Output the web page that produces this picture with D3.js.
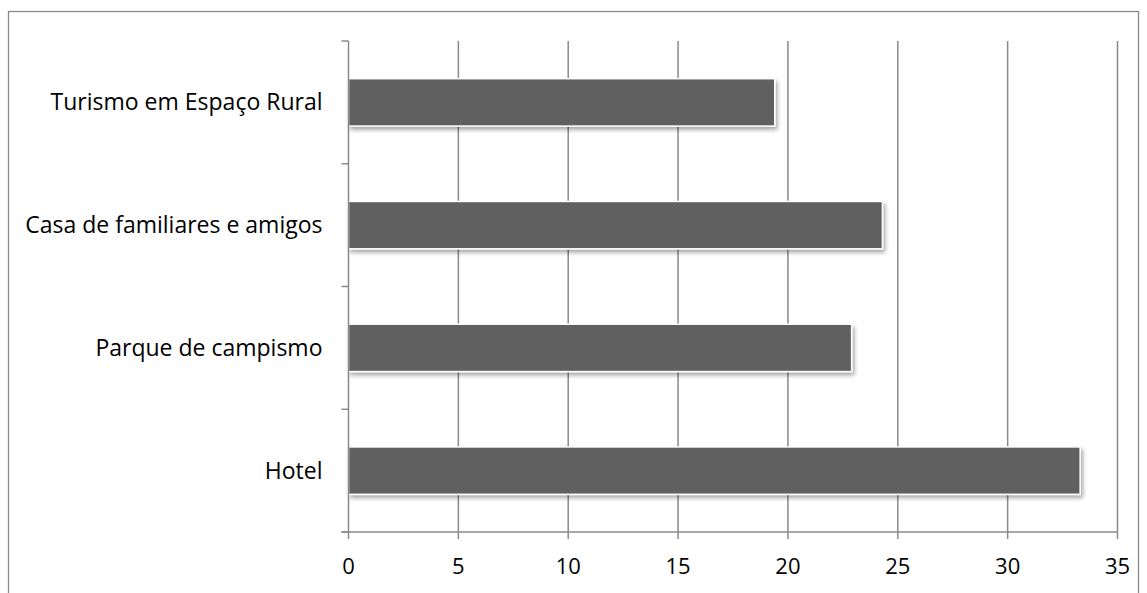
<!DOCTYPE html>
<html>
<head>
<meta charset="utf-8">
<script src="https://cdn.jsdelivr.net/npm/d3@7"></script>
<style>
  html, body { margin: 0; padding: 0; background: #fff; }
  svg { display: block; }
  text { font-family: "Open Sans", Lato, "Liberation Sans", sans-serif; fill: #000; }
</style>
</head>
<body>
<svg id="chart" width="1147" height="593"></svg>
<script>
// Accommodation types (drawn bottom to top) and their shares
const categories = ["Hotel", "Parque de campismo", "Casa de familiares e amigos", "Turismo em Espaço Rural"];
const values = [33.3, 22.9, 24.3, 19.4];
const xTicks = [0, 5, 10, 15, 20, 25, 30, 35];

const svg = d3.select("#chart");
const plot = { left: 348.5, right: 1117.5, top: 41, bottom: 532 };

// Frame around the whole chart
svg.append("rect")
  .attr("x", 8.5).attr("y", 11.5)
  .attr("width", 1130).attr("height", 600)
  .attr("fill", "none").attr("stroke", "#888").attr("stroke-width", 1.3);

const x = d3.scaleLinear().domain([0, 35]).range([plot.left, plot.right]);
const y = d3.scaleBand().domain(categories.slice().reverse())
  .range([plot.top, plot.bottom]).paddingInner(0.614).paddingOuter(0.307);

// Soft shadow under the bars
const defs = svg.append("defs");
const f = defs.append("filter").attr("id", "shadow")
  .attr("x", "-5%").attr("y", "-30%").attr("width", "115%").attr("height", "170%");
f.append("feDropShadow").attr("dx", 2).attr("dy", 3).attr("stdDeviation", 2)
  .attr("flood-color", "#000").attr("flood-opacity", 0.35);

// Vertical gridlines
svg.append("g").selectAll("line").data(xTicks.slice(1)).join("line")
  .attr("x1", d => x(d)).attr("x2", d => x(d))
  .attr("y1", plot.top).attr("y2", plot.bottom)
  .attr("stroke", "#8a8a8a").attr("stroke-width", 1.5);

// Bars
svg.append("g").selectAll("rect").data(categories).join("rect")
  .attr("x", x(0))
  .attr("y", d => y(d))
  .attr("width", (d, i) => x(values[i]) - x(0))
  .attr("height", y.bandwidth())
  .attr("fill", "#606060")
  .attr("stroke", "#fff").attr("stroke-width", 1.5)
  .attr("filter", "url(#shadow)");

// Category axis on the left
const yAxis = svg.append("g").attr("transform", `translate(${plot.left},0)`);
yAxis.append("line")
  .attr("x1", 0).attr("x2", 0).attr("y1", plot.top).attr("y2", plot.bottom)
  .attr("stroke", "#8a8a8a").attr("stroke-width", 1.5);
const boundaries = d3.range(categories.length + 1).map(i => plot.top + i * (plot.bottom - plot.top) / categories.length);
yAxis.selectAll("line.tick").data(boundaries).join("line")
  .attr("class", "tick")
  .attr("x1", -7).attr("x2", 0).attr("y1", d => d).attr("y2", d => d)
  .attr("stroke", "#8a8a8a").attr("stroke-width", 1.5);
yAxis.selectAll("text").data(categories).join("text")
  .attr("x", -26)
  .attr("y", d => y(d) + y.bandwidth() / 2)
  .attr("dy", "0.35em")
  .attr("text-anchor", "end")
  .attr("font-size", 23)
  .text(d => d);

// Value axis at the bottom
const xAxis = svg.append("g");
xAxis.append("line")
  .attr("x1", plot.left - 7).attr("x2", plot.right)
  .attr("y1", plot.bottom).attr("y2", plot.bottom)
  .attr("stroke", "#8a8a8a").attr("stroke-width", 1.5);
xAxis.selectAll("line.tick").data(xTicks).join("line")
  .attr("class", "tick")
  .attr("x1", d => x(d)).attr("x2", d => x(d))
  .attr("y1", plot.bottom).attr("y2", plot.bottom + 7)
  .attr("stroke", "#8a8a8a").attr("stroke-width", 1.5);
xAxis.selectAll("text").data(xTicks).join("text")
  .attr("x", d => x(d))
  .attr("y", 574)
  .attr("text-anchor", "middle")
  .attr("font-size", 22)
  .text(d => d);
</script>
</body>
</html>
